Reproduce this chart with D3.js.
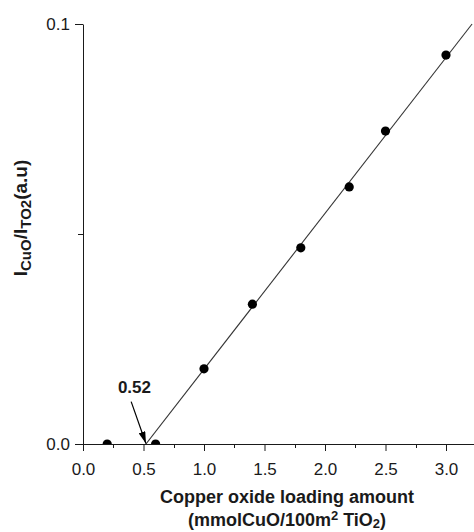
<!DOCTYPE html>
<html>
<head>
<meta charset="utf-8">
<script src="https://cdn.jsdelivr.net/npm/d3@7"></script>
<style>
  html, body { margin: 0; padding: 0; background: #fff; }
  svg { display: block; font-family: "Liberation Sans", Arial, Helvetica, sans-serif; }
</style>
</head>
<body>
<svg id="chart" width="474" height="532"></svg>
<script>
// Copper oxide loading (mmol CuO / 100 m² TiO2) and XRD intensity ratio I(CuO)/I(TiO2)
const loading = [0.2, 0.6, 1.0, 1.4, 1.8, 2.2, 2.5, 3.0];
const ratio   = [0.0, 0.0, 0.0179, 0.0333, 0.0467, 0.0612, 0.0745, 0.0926];

// Linear fit above the dispersion threshold
const threshold = 0.52;
const fitSlope = 0.0371;

const xTicks = [0.0, 0.5, 1.0, 1.5, 2.0, 2.5, 3.0];
const xMinorTicks = [0.25, 0.75, 1.25, 1.75, 2.25, 2.75, 3.25];
const yTicks = [0.0, 0.1];
const yMinorTicks = [0.05];

const svg = d3.select("#chart");
const ink = "#1a1a1a";

const x = d3.scaleLinear().domain([0, 3.25]).range([83, 476.25]);
const y = d3.scaleLinear().domain([0, 0.1]).range([444, 24]);

// Clip marks to the plotting area (points sitting on y=0 show as half discs)
svg.append("defs").append("clipPath").attr("id", "plot-clip")
  .append("rect")
  .attr("x", x(0)).attr("y", 0)
  .attr("width", 474 - x(0)).attr("height", y(0));

const plot = svg.append("g").attr("clip-path", "url(#plot-clip)");

// Fit line from the threshold up to the top of the y range
const fitEnd = threshold + y.domain()[1] / fitSlope;
plot.append("line")
  .attr("x1", x(threshold)).attr("y1", y(0))
  .attr("x2", x(fitEnd)).attr("y2", y(fitSlope * (fitEnd - threshold)))
  .attr("stroke", "#333").attr("stroke-width", 1.1);

plot.selectAll("circle.pt")
  .data(d3.zip(loading, ratio))
  .join("circle")
  .attr("class", "pt")
  .attr("cx", d => x(d[0]))
  .attr("cy", d => y(d[1]))
  .attr("r", 4.6)
  .attr("fill", "#000");

// Axes
const fontTick = 17;

const xAxis = d3.axisBottom(x).tickValues(xTicks)
  .tickFormat(d3.format(".1f")).tickSize(7).tickSizeOuter(0).tickPadding(12);
const gx = svg.append("g").attr("transform", `translate(0,${y(0)})`).call(xAxis);
gx.append("g").selectAll("line")
  .data(xMinorTicks).join("line")
  .attr("x1", d => Math.round(x(d)) + 0.5).attr("x2", d => Math.round(x(d)) + 0.5)
  .attr("y1", 0).attr("y2", 4).attr("stroke", ink);

const yAxis = d3.axisLeft(y).tickValues(yTicks)
  .tickFormat(d3.format(".1f")).tickSize(8).tickSizeOuter(0).tickPadding(5);
const gy = svg.append("g").attr("transform", `translate(${x(0)},0)`).call(yAxis);
gy.append("g").selectAll("line")
  .data(yMinorTicks).join("line")
  .attr("y1", d => Math.round(y(d)) + 0.5).attr("y2", d => Math.round(y(d)) + 0.5)
  .attr("x1", 0).attr("x2", -5).attr("stroke", ink);

[gx, gy].forEach(g => {
  g.select(".domain").attr("stroke", ink).attr("stroke-width", 1);
  g.selectAll(".tick line").attr("stroke", ink);
  g.selectAll(".tick text")
    .attr("fill", ink)
    .style("font-size", fontTick + "px")
    .style("font-family", "'Liberation Sans', Arial, sans-serif");
});

// Threshold annotation with arrow
svg.append("defs").append("marker")
  .attr("id", "arrowhead")
  .attr("viewBox", "0 0 10 10")
  .attr("refX", 10).attr("refY", 5)
  .attr("markerWidth", 12).attr("markerHeight", 7)
  .attr("markerUnits", "userSpaceOnUse")
  .attr("orient", "auto")
  .attr("preserveAspectRatio", "none")
  .append("path").attr("d", "M0,0 L10,5 L0,10 Z").attr("fill", "#000");

svg.append("line")
  .attr("x1", x(threshold - 0.122)).attr("y1", y(0.0101))
  .attr("x2", x(threshold)).attr("y2", y(0) - 0.5)
  .attr("stroke", "#000").attr("stroke-width", 1.2)
  .attr("marker-end", "url(#arrowhead)");

svg.append("text")
  .attr("x", x(threshold - 0.095)).attr("y", y(0.0121))
  .attr("text-anchor", "middle")
  .style("font-size", "17px").style("font-weight", "bold")
  .attr("fill", ink)
  .text(d3.format(".2f")(threshold));

// Axis titles
const titleSize = 18, subSize = 13;

const xTitle = svg.append("text")
  .attr("x", 287).attr("y", 503)
  .attr("text-anchor", "middle")
  .style("font-size", titleSize + "px").style("font-weight", "bold")
  .attr("fill", ink);
xTitle.append("tspan").text("Copper oxide loading amount");

const xTitle2 = svg.append("text")
  .attr("x", 287).attr("y", 526)
  .attr("text-anchor", "middle")
  .style("font-size", titleSize + "px").style("font-weight", "bold")
  .attr("fill", ink);
xTitle2.append("tspan").text("(mmolCuO/100m");
xTitle2.append("tspan").attr("dy", -6).style("font-size", subSize + "px").text("2");
xTitle2.append("tspan").attr("dy", 6).text(" TiO");
xTitle2.append("tspan").attr("dy", 2).style("font-size", subSize + "px").text("2");
xTitle2.append("tspan").attr("dy", -2).text(")");

const yTitle = svg.append("text")
  .attr("transform", "translate(27,218) rotate(-90)")
  .attr("text-anchor", "middle")
  .style("font-size", "19px").style("font-weight", "bold")
  .attr("fill", ink);
yTitle.append("tspan").text("I");
yTitle.append("tspan").attr("dy", 4).style("font-size", "15px").text("CuO");
yTitle.append("tspan").attr("dy", -4).text("/I");
yTitle.append("tspan").attr("dy", 4).style("font-size", "15px").text("TO2");
yTitle.append("tspan").attr("dy", -4).text("(a.u)");
</script>
</body>
</html>
